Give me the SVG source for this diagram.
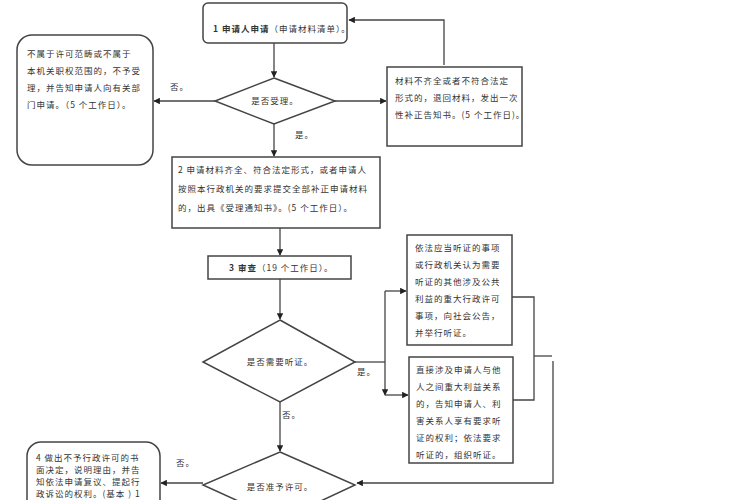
<svg xmlns="http://www.w3.org/2000/svg" width="750" height="500" viewBox="0 0 750 500">
<defs>
<marker id="ar" viewBox="0 0 10 10" refX="9" refY="5" markerWidth="5" markerHeight="5" orient="auto"><path d="M0,0L10,5L0,10z" fill="#222"/></marker>
<style>
.n{fill:#fff;stroke:#444;stroke-width:1.5}
.t{font-family:"Noto Sans CJK SC","Liberation Sans",sans-serif;font-size:8.5px;fill:#333;letter-spacing:1px}
.b{font-weight:bold}
.c{fill:none;stroke:#444;stroke-width:1.3}
.a{marker-end:url(#ar)}
</style>
</defs>
<rect width="750" height="500" fill="#fff"/>
<g id="connectors">
<path class="c a" d="M274,43V77"/>
<path class="c a" d="M215,101H154"/>
<path class="c a" d="M335,101H386"/>
<path class="c a" d="M444,65V20H349"/>
<path class="c a" d="M274,124V156"/>
<path class="c a" d="M280,228V255"/>
<path class="c a" d="M280,279V319"/>
<path class="c" d="M355,362H385"/>
<path class="c a" d="M385,291V395"/>
<path class="c a" d="M385,291H406"/>
<path class="c a" d="M385,395H408"/>
<path class="c" d="M512,297H534V400H513"/>
<path class="c" d="M534,356H552"/>
<path class="c a" d="M553,361V483H357"/>
<path class="c a" d="M280,402V451"/>
<path class="c a" d="M203,483H161"/>
</g>
<g class="t">
<text x="170" y="90">否。</text>
<text x="295" y="138">是。</text>
<text x="357" y="375">是。</text>
<text x="282" y="418">否。</text>
<text x="176" y="466">否。</text>
</g>
<g id="n1"><rect class="n" x="203" y="3" width="144" height="40" rx="5"/>
<text class="t" x="213" y="32"><tspan class="b">1 申请人申请</tspan>（申请材料清单）。</text></g>
<g id="d1"><path class="n" d="M274,78L335,101L274,124L215,101Z"/><text class="t" x="275" y="104" text-anchor="middle">是否受理。</text></g>
<g id="nl"><rect class="n" x="17" y="35" width="136" height="130" rx="15"/>
<text class="t" x="27" y="57">不属于许可范畴或不属于</text>
<text class="t" x="27" y="74">本机关职权范围的，不予受</text>
<text class="t" x="27" y="91">理，并告知申请人向有关部</text>
<text class="t" x="27" y="108">门申请。（5 个工作日）。</text></g>
<g id="nr"><rect class="n" x="387" y="67" width="135" height="79"/>
<text class="t" x="395" y="84">材料不齐全或者不符合法定</text>
<text class="t" x="395" y="101">形式的，退回材料，发出一次</text>
<text class="t" x="395" y="118">性补正告知书。(5 个工作日)。</text></g>
<g id="n2"><rect class="n" x="172" y="157" width="208" height="71"/>
<text class="t" x="178" y="173">2 申请材料齐全、符合法定形式，或者申请人</text>
<text class="t" x="178" y="192">按照本行政机关的要求提交全部补正申请材料</text>
<text class="t" x="178" y="211">的，出具《受理通知书》。(5 个工作日）。</text></g>
<g id="n3"><rect class="n" x="208" y="256" width="143" height="23"/>
<text class="t" x="229" y="271"><tspan class="b">3 审查</tspan>（19 个工作日）。</text></g>
<g id="d2"><path class="n" d="M280,320L355,362L280,402L203,362Z"/><text class="t" x="280" y="365" text-anchor="middle">是否需要听证。</text></g>
<g id="na"><rect class="n" x="407" y="235" width="105" height="110"/>
<text class="t" x="415" y="251">依法应当听证的事项</text>
<text class="t" x="415" y="268">或行政机关认为需要</text>
<text class="t" x="415" y="285">听证的其他涉及公共</text>
<text class="t" x="415" y="302">利益的重大行政许可</text>
<text class="t" x="415" y="319">事项，向社会公告，</text>
<text class="t" x="415" y="336">并举行听证。</text></g>
<g id="nb"><rect class="n" x="409" y="357" width="104" height="106"/>
<text class="t" x="416" y="373">直接涉及申请人与他</text>
<text class="t" x="416" y="390">人之间重大利益关系</text>
<text class="t" x="416" y="407">的，告知申请人、利</text>
<text class="t" x="416" y="424">害关系人享有要求听</text>
<text class="t" x="416" y="441">证的权利；依法要求</text>
<text class="t" x="416" y="458">听证的，组织听证。</text></g>
<g id="d3"><path class="n" d="M280,452L355,485L280,520L203,485Z"/><text class="t" x="280" y="490" text-anchor="middle">是否准予许可。</text></g>
<g id="n4"><rect class="n" x="27" y="442" width="133" height="80" rx="14"/>
<text class="t" x="36" y="461">4 做出不予行政许可的书</text>
<text class="t" x="36" y="473">面决定，说明理由，并告</text>
<text class="t" x="36" y="485">知依法申请复议、提起行</text>
<text class="t" x="36" y="497">政诉讼的权利。(基本 ) 1</text></g>
</svg>
